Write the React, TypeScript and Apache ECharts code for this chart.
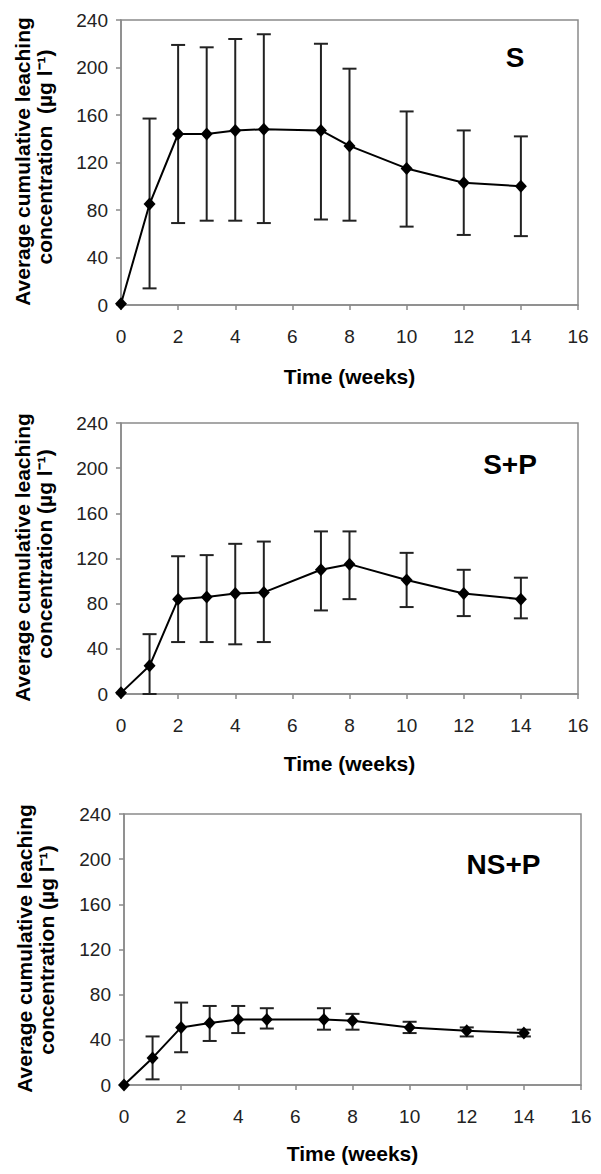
import React, { useEffect, useRef } from "react";
import * as echarts from "echarts";

const weeks = [0, 1, 2, 3, 4, 5, 7, 8, 10, 12, 14];

const sMean = [1, 85, 144, 144, 147, 148, 147, 134, 115, 103, 100];
const sUpper = [null, 157, 219, 217, 224, 228, 220, 199, 163, 147, 142];
const sLower = [null, 14, 69, 71, 71, 69, 72, 71, 66, 59, 58];

const spMean = [1, 25, 84, 86, 89, 90, 110, 115, 101, 89, 84];
const spUpper = [null, 53, 122, 123, 133, 135, 144, 144, 125, 110, 103];
const spLower = [null, 0, 46, 46, 44, 46, 74, 84, 77, 69, 67];

const nspMean = [0, 24, 51, 55, 58, 58, 58, 57, 51, 48, 46];
const nspUpper = [null, 43, 73, 70, 70, 68, 68, 63, 56, 51, 49];
const nspLower = [null, 5, 29, 39, 46, 50, 49, 49, 46, 43, 43];

const panelLabels = ["S", "S+P", "NS+P"];
const xTitle = "Time (weeks)";
const yTitle1 = "Average cumulative leaching";
const yTitle2 = ["concentration  (\u00b5g l\u207b\u00b9)", "concentration (\u00b5g l\u207b\u00b9)", "concentration (\u00b5g l\u207b\u00b9)"];

const FONT = '"Liberation Sans", Arial, Helvetica, sans-serif';

export default function App() {
  const ref = useRef<HTMLDivElement>(null);

  useEffect(() => {
    document.body.style.margin = "0";
    if (!ref.current) return;
    const chart = echarts.init(ref.current, null, { renderer: "svg" });

    const panels = [
      { mean: sMean, upper: sUpper, lower: sLower },
      { mean: spMean, upper: spUpper, lower: spLower },
      { mean: nspMean, upper: nspUpper, lower: nspLower },
    ];

    const grids = [
      { left: 121, top: 20, width: 457, height: 285 },
      { left: 121, top: 423, width: 457, height: 271 },
      { left: 124, top: 814, width: 457, height: 271 },
    ];
    const nameGaps = [61, 59, 58];
    const labelPos = [
      [515, 57],
      [510, 464],
      [503.5, 864],
    ];
    const yTitlePos = [
      { x1: 22.7, y1: 161.5, x2: 44.7, y2: 157 },
      { x1: 22.7, y1: 557.5, x2: 44.7, y2: 554 },
      { x1: 24, y1: 948.5, x2: 46, y2: 950 },
    ];

    const gray = "#8a8a8a";

    const xAxes = grids.map((_, i) => ({
      gridIndex: i,
      type: "value",
      min: 0,
      max: 16,
      interval: 2,
      name: xTitle,
      nameLocation: "middle",
      nameGap: nameGaps[i],
      nameTextStyle: { fontFamily: FONT, fontSize: 21, fontWeight: "bold", color: "#000" },
      axisLine: { show: true, onZero: false, lineStyle: { color: gray, width: 1.5 } },
      axisTick: { show: true, inside: false, length: 5, lineStyle: { color: gray, width: 1.5 } },
      axisLabel: { fontFamily: FONT, fontSize: 19, color: "#222", margin: 22 },
      splitLine: { show: false },
    }));

    const yAxes = grids.map((_, i) => ({
      gridIndex: i,
      type: "value",
      min: 0,
      max: 240,
      interval: 40,
      axisLine: { show: true, lineStyle: { color: gray, width: 1.5 } },
      axisTick: { show: true, inside: false, length: 5, lineStyle: { color: gray, width: 1.5 } },
      axisLabel: { fontFamily: FONT, fontSize: 19, color: "#222", margin: 13 },
      splitLine: { show: false },
    }));

    const series: any[] = [];
    panels.forEach((p, i) => {
      const errData = weeks
        .map((w, k) => (p.upper[k] == null ? null : [w, p.lower[k], p.upper[k]]))
        .filter((d) => d !== null);
      series.push({
        type: "custom",
        xAxisIndex: i,
        yAxisIndex: i,
        z: 1,
        clip: false,
        data: errData,
        encode: { x: 0, y: [1, 2] },
        renderItem: (params: any, api: any) => {
          const x = api.value(0);
          const lo = api.value(1);
          const hi = api.value(2);
          const pHi = api.coord([x, hi]);
          const pLo = api.coord([x, lo]);
          const hw = 7;
          const style = { stroke: "#222", lineWidth: 2 };
          return {
            type: "group",
            children: [
              { type: "line", shape: { x1: pHi[0], y1: pHi[1], x2: pLo[0], y2: pLo[1] }, style },
              { type: "line", shape: { x1: pHi[0] - hw, y1: pHi[1], x2: pHi[0] + hw, y2: pHi[1] }, style },
              { type: "line", shape: { x1: pLo[0] - hw, y1: pLo[1], x2: pLo[0] + hw, y2: pLo[1] }, style },
            ],
          };
        },
      });
      series.push({
        type: "line",
        xAxisIndex: i,
        yAxisIndex: i,
        z: 3,
        data: weeks.map((w, k) => [w, p.mean[k]]),
        symbol: "diamond",
        symbolSize: [12, 13],
        showSymbol: true,
        clip: false,
        lineStyle: { color: "#000", width: 2 },
        itemStyle: { color: "#000" },
      });
    });

    const graphics: any[] = [];
    grids.forEach((g, i) => {
      graphics.push({
        type: "text",
        x: labelPos[i][0],
        y: labelPos[i][1],
        style: {
          text: panelLabels[i],
          fontFamily: FONT,
          fontSize: 28,
          fontWeight: "bold",
          fill: "#000",
          textAlign: "center",
          textVerticalAlign: "middle",
        },
      });
      const t = yTitlePos[i];
      graphics.push({
        type: "text",
        x: t.x1,
        y: t.y1,
        rotation: Math.PI / 2,
        style: {
          text: yTitle1,
          fontFamily: FONT,
          fontSize: 21,
          fontWeight: "bold",
          fill: "#000",
          textAlign: "center",
          textVerticalAlign: "middle",
        },
      });
      graphics.push({
        type: "text",
        x: t.x2,
        y: t.y2,
        rotation: Math.PI / 2,
        style: {
          text: yTitle2[i],
          fontFamily: FONT,
          fontSize: 21,
          fontWeight: "bold",
          fill: "#000",
          textAlign: "center",
          textVerticalAlign: "middle",
        },
      });
    });

    chart.setOption({
      animation: false,
      backgroundColor: "#fff",
      grid: grids.map((g) => ({
        ...g,
        show: true,
        borderColor: gray,
        borderWidth: 1.5,
        backgroundColor: "transparent",
        containLabel: false,
      })),
      xAxis: xAxes,
      yAxis: yAxes,
      series,
      graphic: graphics,
    });

    return () => {
      chart.dispose();
    };
  }, []);

  return <div ref={ref} style={{ width: 601, height: 1174 }} />;
}
